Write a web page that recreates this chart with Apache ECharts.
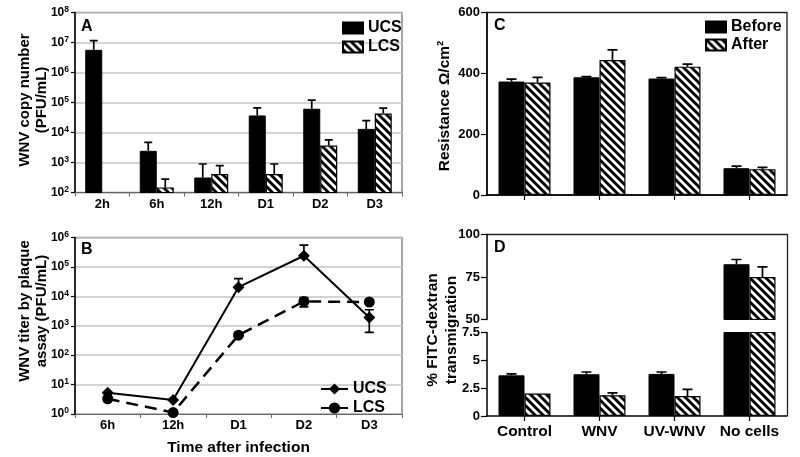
<!DOCTYPE html>
<html><head><meta charset="utf-8">
<script src="https://cdn.jsdelivr.net/npm/echarts@6/dist/echarts.min.js"></script>
<style>html,body{margin:0;padding:0;background:#fff}#c{width:800px;height:457px}</style>
</head><body><div id="c"></div>
<script>
// ---------- Panel A: WNV copy number (log) ----------
const timesA = ['2h', '6h', '12h', 'D1', 'D2', 'D3'];
const ucsCopy = [5.7e6, 2450, 316, 37000, 62000, 13200];
const ucsCopyHigh = [1.15e7, 4700, 890, 66000, 120000, 25000];
const lcsCopy = [null, 148, 410, 410, 3700, 43000];
const lcsCopyHigh = [null, 280, 790, 890, 5700, 65000];

// ---------- Panel B: WNV titer by plaque assay (log) ----------
const timesB = ['6h', '12h', 'D1', 'D2', 'D3'];
const ucsTiter = [5.3, 3.0, 20500, 240000, 1900];
const ucsTiterHigh = [null, null, 40000, 550000, 3500];
const ucsTiterLow = [null, null, null, null, 600];
const lcsTiter = [3.3, 1.12, 480, 6700, 6400];
const lcsTiterHigh = [null, null, null, 9000, null];
const lcsTiterLow = [null, null, null, 4400, null];

// ---------- Panel C: Resistance ----------
const groups = ['Control', 'WNV', 'UV-WNV', 'No cells'];
const resBefore = [373, 387, 383, 88];
const resBeforeHigh = [381, 389, 386, 95];
const resAfter = [370, 444, 422, 85];
const resAfterHigh = [387, 477, 430, 91];

// ---------- Panel D: % FITC-dextran transmigration (broken axis) ----------
const fitcBefore = [3.65, 3.75, 3.78, 82.5];
const fitcBeforeHigh = [3.78, 3.95, 3.95, 85.3];
const fitcAfter = [2.02, 1.87, 1.8, 75];
const fitcAfterHigh = [null, 2.07, 2.4, 81];
const dUpperTicks = [50, 75, 100];
const dLowerTicks = [0, 2.5, 5, 7.5];

const FONT = '"Liberation Sans", Arial, sans-serif';

function hatch() {
  const p = 8;
  const c = document.createElement('canvas');
  c.width = p; c.height = p;
  const g = c.getContext('2d');
  g.fillStyle = '#fff'; g.fillRect(0, 0, p, p);
  g.strokeStyle = '#000'; g.lineWidth = 2.9;
  g.beginPath();
  for (const k of [-p, 0, p]) { g.moveTo(k - 1, -1); g.lineTo(k + p + 1, p + 1); }
  g.stroke();
  return c;
}
const HATCH = { image: hatch(), repeat: 'repeat' };
const solidStyle = { color: '#000', borderColor: '#000', borderWidth: 1 };
const hatchStyle = { color: HATCH, borderColor: '#000', borderWidth: 1.2 };

function errData(vals, highs, lows) {
  const out = [];
  vals.forEach((v, i) => {
    if (v == null) return;
    const h = highs ? highs[i] : null, l = lows ? lows[i] : null;
    if (h == null && l == null) return;
    out.push([i, v, h == null ? v : h, l == null ? v : l]);
  });
  return out;
}
function errSeries(xi, yi, data, offset, cap) {
  return {
    type: 'custom', xAxisIndex: xi, yAxisIndex: yi, data: data, clip: true, z: 5, silent: true,
    encode: { x: 0, y: 1 },
    renderItem: function (params, api) {
      const i = api.value(0), v = api.value(1), h = api.value(2), l = api.value(3);
      const pv = api.coord([i, v]), ph = api.coord([i, h]), pl = api.coord([i, l]);
      const x = pv[0] + offset;
      const st = { stroke: '#000', lineWidth: 1.7 };
      const ch = [{ type: 'line', shape: { x1: x, y1: pl[1], x2: x, y2: ph[1] }, style: st }];
      if (h !== v) ch.push({ type: 'line', shape: { x1: x - cap / 2, y1: ph[1], x2: x + cap / 2, y2: ph[1] }, style: st });
      if (l !== v) ch.push({ type: 'line', shape: { x1: x - cap / 2, y1: pl[1], x2: x + cap / 2, y2: pl[1] }, style: st });
      return { type: 'group', children: ch };
    }
  };
}

const logLabel = {
  formatter: v => '{b|10}{s|' + Math.round(Math.log10(v)) + '}',
  margin: 6,
  rich: {
    b: { fontSize: 12, fontWeight: 'bold', fontFamily: FONT, color: '#000', lineHeight: 15 },
    s: { fontSize: 8.5, fontWeight: 'bold', fontFamily: FONT, color: '#000', lineHeight: 8, verticalAlign: 'top', padding: [0, 0, 2, 0] }
  }
};
const blackAxis = { show: true, lineStyle: { color: '#000', width: 1.5 } };
const grayAxis = { show: true, lineStyle: { color: '#666', width: 1.2 } };
const outTick = len => ({ show: true, length: len, lineStyle: { color: '#000', width: 1.2 } });
const gridSplit = { show: true, lineStyle: { color: '#c4c4c4', width: 1.5 } };
const catLabel = size => ({ fontSize: size, fontWeight: 'bold', fontFamily: FONT, color: '#000' });
const numLabel = { fontSize: 13, fontWeight: 'bold', fontFamily: FONT, color: '#000', margin: 7 };
const legendText = size => ({ fontSize: size, fontWeight: 'bold', fontFamily: FONT, color: '#000' });

const chart = echarts.init(document.getElementById('c'), null, { renderer: 'canvas' });

const option = {
  animation: false,
  backgroundColor: '#fff',
  grid: [
    { left: 75, top: 12.5, width: 327, height: 180, show: true, borderColor: '#888', borderWidth: 1.5 },
    { left: 75, top: 237.5, width: 327, height: 180, show: true, borderColor: '#888', borderWidth: 1.5 },
    { left: 487, top: 12.5, width: 300, height: 182.5, show: true, borderColor: '#222', borderWidth: 1.3 },
    { left: 487, top: 234.5, width: 300, height: 85 },
    { left: 487, top: 332.5, width: 300, height: 83.5 }
  ],
  xAxis: [
    { gridIndex: 0, type: 'category', data: timesA, axisLine: grayAxis,
      axisTick: { show: true, length: 4, lineStyle: { color: '#666' } },
      axisLabel: Object.assign(catLabel(13), { margin: 5, interval: 0 }) },
    { gridIndex: 1, type: 'category', data: timesB, axisLine: grayAxis,
      axisTick: { show: true, length: 4, lineStyle: { color: '#666' } },
      axisLabel: Object.assign(catLabel(13), { margin: 5, interval: 0 }),
      name: 'Time after infection', nameLocation: 'middle', nameGap: 26,
      nameTextStyle: { fontSize: 15.5, fontWeight: 'bold', fontFamily: FONT, color: '#000' } },
    { gridIndex: 2, type: 'category', data: groups, axisLine: blackAxis,
      axisTick: { show: true, alignWithLabel: true, length: 5, lineStyle: { color: '#000', width: 1.2 } },
      axisLabel: { show: false } },
    { gridIndex: 3, type: 'category', data: groups, show: false },
    { gridIndex: 4, type: 'category', data: groups, axisLine: blackAxis,
      axisTick: { show: true, alignWithLabel: true, length: 5, lineStyle: { color: '#000', width: 1.2 } },
      axisLabel: Object.assign(catLabel(15.5), { margin: 8, interval: 0, hideOverlap: false }) }
  ],
  yAxis: [
    { gridIndex: 0, type: 'log', logBase: 10, min: 100, max: 1e8, interval: 1,
      axisLine: blackAxis, axisTick: outTick(4), axisLabel: logLabel, splitLine: gridSplit },
    { gridIndex: 1, type: 'log', logBase: 10, min: 1, max: 1e6, interval: 1,
      axisLine: blackAxis, axisTick: outTick(4), axisLabel: logLabel, splitLine: gridSplit },
    { gridIndex: 2, type: 'value', min: 0, max: 600, interval: 200,
      axisLine: blackAxis, axisTick: outTick(6), axisLabel: numLabel, splitLine: { show: false } },
    { gridIndex: 3, type: 'value', min: dUpperTicks[0], max: dUpperTicks[dUpperTicks.length - 1], interval: 25,
      axisLine: blackAxis, axisTick: outTick(6), axisLabel: numLabel, splitLine: { show: false } },
    { gridIndex: 4, type: 'value', min: dLowerTicks[0], max: dLowerTicks[dLowerTicks.length - 1], interval: 2.5,
      axisLine: blackAxis, axisTick: outTick(6), axisLabel: numLabel, splitLine: { show: false } }
  ],
  legend: [
    { data: ['UCS', 'LCS'], left: 342, top: 20, padding: 0, orient: 'vertical', icon: 'rect', itemWidth: 20, itemHeight: 11, itemGap: 3,
      selectedMode: false, textStyle: legendText(16) },
    { data: ['UCS ', 'LCS '], left: 320, top: 381, padding: 0, orient: 'vertical', itemWidth: 27, itemHeight: 14, itemGap: 3,
      selectedMode: false, formatter: n => n.trim(), textStyle: legendText(16) },
    { data: ['Before', 'After'], left: 705, top: 19, padding: 0, orient: 'vertical', icon: 'rect', itemWidth: 20, itemHeight: 11, itemGap: 2,
      selectedMode: false, textStyle: legendText(16) }
  ],
  series: [
    // A
    { name: 'UCS', type: 'bar', xAxisIndex: 0, yAxisIndex: 0, data: ucsCopy, barWidth: 17, barGap: '0%', itemStyle: solidStyle, clip: true },
    { name: 'LCS', type: 'bar', xAxisIndex: 0, yAxisIndex: 0, data: lcsCopy, barWidth: 17, barGap: '0%', itemStyle: hatchStyle, clip: true },
    errSeries(0, 0, errData(ucsCopy, ucsCopyHigh), -8.5, 8),
    errSeries(0, 0, errData(lcsCopy, lcsCopyHigh), 8.5, 8),
    // B
    { name: 'UCS ', type: 'line', xAxisIndex: 1, yAxisIndex: 1, data: ucsTiter, symbol: 'diamond', symbolSize: 12,
      itemStyle: { color: '#000' }, lineStyle: { color: '#000', width: 2 }, z: 4 },
    { name: 'LCS ', type: 'line', xAxisIndex: 1, yAxisIndex: 1, data: lcsTiter, symbol: 'circle', symbolSize: 11,
      itemStyle: { color: '#000' }, lineStyle: { color: '#000', width: 2.5, type: [12, 7] }, z: 3 },
    errSeries(1, 1, errData(ucsTiter, ucsTiterHigh, ucsTiterLow), 0, 9),
    errSeries(1, 1, errData(lcsTiter, lcsTiterHigh, lcsTiterLow), 0, 9),
    // C
    { name: 'Before', type: 'bar', xAxisIndex: 2, yAxisIndex: 2, data: resBefore, barWidth: 26, barGap: '0%', itemStyle: solidStyle },
    { name: 'After', type: 'bar', xAxisIndex: 2, yAxisIndex: 2, data: resAfter, barWidth: 26, barGap: '0%', itemStyle: hatchStyle },
    errSeries(2, 2, errData(resBefore, resBeforeHigh), -13, 10),
    errSeries(2, 2, errData(resAfter, resAfterHigh), 13, 10),
    // D upper
    { name: 'Before-D1', type: 'bar', xAxisIndex: 3, yAxisIndex: 3, data: fitcBefore, barWidth: 26, barGap: '0%', itemStyle: solidStyle, clip: true },
    { name: 'After-D1', type: 'bar', xAxisIndex: 3, yAxisIndex: 3, data: fitcAfter, barWidth: 26, barGap: '0%', itemStyle: hatchStyle, clip: true },
    errSeries(3, 3, errData(fitcBefore, fitcBeforeHigh), -13, 10),
    errSeries(3, 3, errData(fitcAfter, fitcAfterHigh), 13, 10),
    // D lower
    { name: 'Before-D2', type: 'bar', xAxisIndex: 4, yAxisIndex: 4, data: fitcBefore, barWidth: 26, barGap: '0%', itemStyle: solidStyle, clip: true },
    { name: 'After-D2', type: 'bar', xAxisIndex: 4, yAxisIndex: 4, data: fitcAfter, barWidth: 26, barGap: '0%', itemStyle: hatchStyle, clip: true },
    errSeries(4, 4, errData(fitcBefore, fitcBeforeHigh), -13, 10),
    errSeries(4, 4, errData(fitcAfter, fitcAfterHigh), 13, 10)
  ],
  graphic: [
    { type: 'text', left: 81, top: 19, style: { text: 'A', font: 'bold 16px ' + FONT, fill: '#000' } },
    { type: 'text', left: 81, top: 242, style: { text: 'B', font: 'bold 16px ' + FONT, fill: '#000' } },
    { type: 'text', left: 494, top: 18, style: { text: 'C', font: 'bold 16px ' + FONT, fill: '#000' } },
    { type: 'text', left: 494, top: 240, style: { text: 'D', font: 'bold 16px ' + FONT, fill: '#000' } },
    { type: 'text', x: 33.5, y: 100, rotation: Math.PI / 2,
      style: { text: 'WNV copy number\n(PFU/mL)', font: 'bold 15px ' + FONT, fill: '#000', align: 'center', verticalAlign: 'middle', lineHeight: 17 } },
    { type: 'text', x: 33.5, y: 311, rotation: Math.PI / 2,
      style: { text: 'WNV titer by plaque\nassay (PFU/mL)', font: 'bold 15px ' + FONT, fill: '#000', align: 'center', verticalAlign: 'middle', lineHeight: 17 } },
    { type: 'text', x: 445, y: 106, rotation: Math.PI / 2,
      style: { text: 'Resistance Ω/cm²', font: 'bold 15.5px ' + FONT, fill: '#000', align: 'center', verticalAlign: 'middle' } },
    { type: 'text', x: 442.5, y: 330, rotation: Math.PI / 2,
      style: { text: '% FITC-dextran\ntransmigration', font: 'bold 15.5px ' + FONT, fill: '#000', align: 'center', verticalAlign: 'middle', lineHeight: 19 } },
    { type: 'polyline', shape: { points: [[487, 234.5], [787.5, 234.5], [787.5, 416]] },
      style: { stroke: '#222', lineWidth: 1.3, fill: null } }
  ]
};
chart.setOption(option);
</script>
</body></html>
